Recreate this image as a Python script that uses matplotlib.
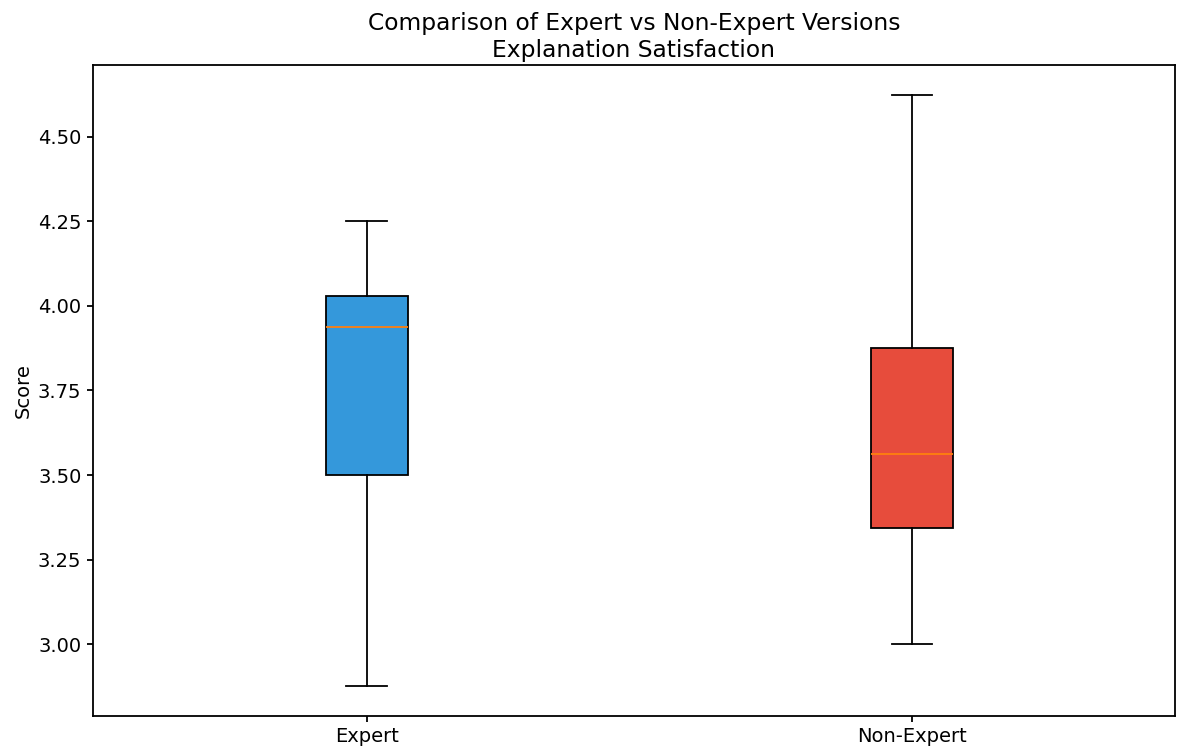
import matplotlib.pyplot as plt

groups = ["Expert", "Non-Expert"]
whisker_low = [2.875, 3.0]
q1 = [3.5, 3.34375]
median = [3.9375, 3.5625]
q3 = [4.03, 3.875]
whisker_high = [4.25, 4.625]
colors = ["#3498db", "#e74c3c"]

stats = []
for i in range(len(groups)):
    stats.append({
        "label": groups[i],
        "whislo": whisker_low[i],
        "q1": q1[i],
        "med": median[i],
        "q3": q3[i],
        "whishi": whisker_high[i],
        "fliers": [],
    })

lw = 1.3
fig, ax = plt.subplots(figsize=(11.86, 7.56), dpi=100)
bp = ax.bxp(stats, patch_artist=True,
            boxprops=dict(linewidth=lw),
            whiskerprops=dict(linewidth=lw),
            capprops=dict(linewidth=lw),
            medianprops=dict(linewidth=lw, color="#ff7f0e"))
for patch, c in zip(bp["boxes"], colors):
    patch.set_facecolor(c)

ax.set_title("Comparison of Expert vs Non-Expert Versions\nExplanation Satisfaction", fontsize=16.8)
ax.set_ylabel("Score", fontsize=14)
ax.tick_params(labelsize=14, width=lw, length=4.5)
for s in ax.spines.values():
    s.set_linewidth(lw)
ax.set_yticks([3.0, 3.25, 3.5, 3.75, 4.0, 4.25, 4.5])
ax.set_yticklabels(["3.00", "3.25", "3.50", "3.75", "4.00", "4.25", "4.50"])
ax.set_xlim(0.497, 2.483)

fig.subplots_adjust(left=0.078, right=0.991, top=0.914, bottom=0.053)
fig.savefig("out.png")
